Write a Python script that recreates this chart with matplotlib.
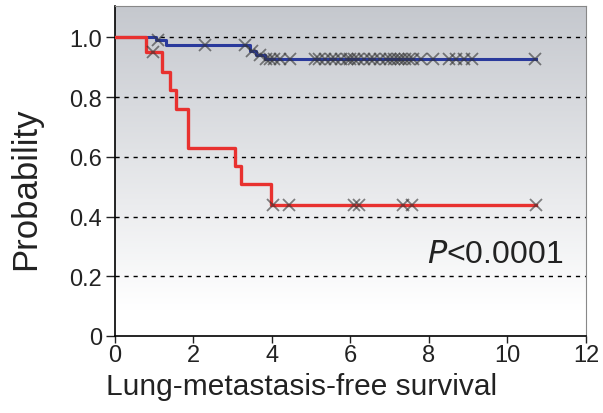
import matplotlib
matplotlib.use("Agg")
import matplotlib.pyplot as plt
import numpy as np

plt.rcParams['font.family'] = ['Liberation Sans', 'DejaVu Sans']

# Kaplan-Meier step data (time, survival)
red_t = [0, 0.78, 1.2, 1.4, 1.55, 1.85, 3.05, 3.2, 3.97, 10.74]
red_s = [1.0, 0.95, 0.885, 0.825, 0.76, 0.63, 0.57, 0.51, 0.44, 0.44]
red_cens_t = [0.98, 4.02, 4.44, 6.09, 6.22, 7.33, 7.56, 10.74]
red_cens_s = [0.95, 0.44, 0.44, 0.44, 0.44, 0.44, 0.44, 0.44]

blue_t = [0, 1.05, 1.3, 3.45, 3.6, 3.82, 10.74]
blue_s = [1.0, 0.99, 0.975, 0.955, 0.94, 0.928, 0.928]
blue_cens_t = [1.1, 2.3, 3.3, 3.5, 3.7, 3.85, 3.95, 4.05, 4.2, 4.45,
               5.1, 5.2, 5.35, 5.5, 5.6, 5.75, 5.9, 6.0, 6.1, 6.2, 6.35,
               6.5, 6.6, 6.75, 6.9, 7.0, 7.1, 7.2, 7.3, 7.4, 7.5, 7.6,
               7.8, 8.1, 8.5, 8.7, 8.9, 9.1, 10.7]

xticks = [0, 2, 4, 6, 8, 10, 12]
yticks = [0, 0.2, 0.4, 0.6, 0.8, 1.0]
ylabels = ['0', '0.2', '0.4', '0.6', '0.8', '1.0']

fig = plt.figure(figsize=(6.03, 4.14), dpi=100)
ax = fig.add_axes([0.1907, 0.186, 0.781, 0.797])
ax.set_xlim(0, 12)
ax.set_ylim(0, 1.105)

# gradient background: grey at top fading to white near the bottom
grad = np.linspace(0, 1, 256).reshape(-1, 1)
top = np.array([197, 200, 206]) / 255.0
frac = np.clip((grad - 0.08) / 0.92, 0, 1)
img = 1 - frac[..., None] * (1 - top)
ax.imshow(img, extent=[0, 12, 0, 1.105], origin='lower', aspect='auto', zorder=0)

for y in yticks[1:]:
    ax.axhline(y, color='black', lw=1.0, ls=(0, (3, 3.5)), zorder=1)

ax.step(blue_t, blue_s, where='post', color='#2a3a9c', lw=2.2, zorder=3)
ax.step(red_t, red_s, where='post', color='#e8312f', lw=2.4, zorder=3)

blue_cens_s = [blue_s[max(i for i, bt in enumerate(blue_t) if bt <= t)] for t in blue_cens_t]
ax.plot(blue_cens_t, blue_cens_s, ls='none', marker='x', ms=8, mew=1.3,
        color='#333333', alpha=0.6, zorder=4)
ax.plot(red_cens_t, red_cens_s, ls='none', marker='x', ms=8, mew=1.3,
        color='#333333', alpha=0.6, zorder=4)

ax.set_xticks(xticks)
ax.set_yticks(yticks)
ax.set_yticklabels(ylabels)
ax.tick_params(direction='out', width=1.0, labelsize=17, colors='#222222')
ax.tick_params(axis='y', length=6.5, pad=3)
ax.tick_params(axis='x', length=5, pad=1)
for s in ['top', 'right']:
    ax.spines[s].set_color('#888888')
    ax.spines[s].set_linewidth(0.8)
for s in ['left', 'bottom']:
    ax.spines[s].set_linewidth(1.2)

ax.set_xlabel('Lung-metastasis-free survival', fontsize=21.5, color='#222222')
ax.xaxis.set_label_coords(0.397, -0.11)
ax.set_ylabel('Probability', fontsize=25, color='#222222')
ax.yaxis.set_label_coords(-0.155, 0.45)

ax.text(11.41, 0.274, r'$\it{P}$<0.0001', fontsize=23, ha='right', va='center', color='#222222')

fig.savefig('out.png', dpi=100)
